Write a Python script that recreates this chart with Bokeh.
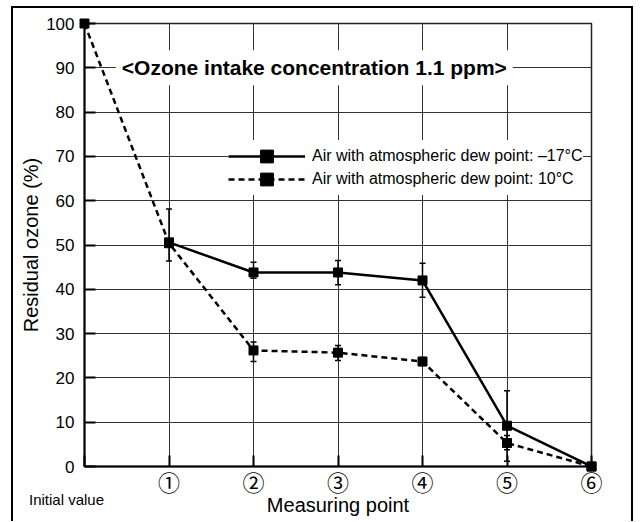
from bokeh.plotting import figure
from bokeh.models import (Range1d, Whisker, TeeHead, ColumnDataSource, Legend,
                          LegendItem, Label, FixedTicker)
from bokeh.core.properties import value
from bokeh.embed import file_html
from bokeh.resources import INLINE

# ---- data ----
points = [0, 1, 2, 3, 4, 5, 6]
tick_labels = ["", "\u2460", "\u2461", "\u2462", "\u2463", "\u2464", "\u2465"]
initial_label = "Initial value"
y_ticks = [0, 10, 20, 30, 40, 50, 60, 70, 80, 90, 100]

dry_name = "Air with atmospheric dew point: \u201317\u00b0C"
dry_x = [1, 2, 3, 4, 5, 6]
dry_y = [50.6, 43.8, 43.8, 42.0, 9.2, 0.0]
dry_lo = [46.4, 42.5, 41.0, 38.2, 1.2, 0.0]
dry_hi = [58.1, 46.1, 46.5, 45.9, 17.1, 0.0]

humid_name = "Air with atmospheric dew point: 10\u00b0C"
humid_x = [0, 1, 2, 3, 4, 5, 6]
humid_y = [100.0, 50.4, 26.2, 25.7, 23.7, 5.3, 0.0]
humid_lo = [100.0, 50.4, 23.7, 23.9, 22.8, 3.8, 0.0]
humid_hi = [100.0, 50.4, 28.1, 27.3, 24.6, 7.0, 0.0]

title_text = "<Ozone intake concentration 1.1 ppm>"
x_title = "Measuring point"
y_title = "Residual ozone (%)"

FONT = "Liberation Sans"

p = figure(frame_width=507, frame_height=443,
           x_range=Range1d(0, 6), y_range=Range1d(0, 100),
           output_backend="svg", toolbar_location=None,
           min_border_left=71, min_border_right=40,
           min_border_top=15, min_border_bottom=55)
p.styles = {"border-top": "2px solid black", "border-left": "2px solid black",
            "border-right": "2px solid black"}
p.margin = (6, 0, 0, 11)

p.outline_line_color = "#222222"
p.outline_line_width = 1.5
p.background_fill_color = "white"

# grid
p.xgrid.ticker = FixedTicker(ticks=points)
p.ygrid.ticker = FixedTicker(ticks=y_ticks)
for g in (p.xgrid, p.ygrid):
    g.grid_line_color = "#333333"
    g.grid_line_width = 1
    g.grid_line_alpha = 1

# axes
p.xaxis.ticker = FixedTicker(ticks=points)
p.xaxis.major_label_overrides = {pt: lab for pt, lab in zip(points, tick_labels)}
p.yaxis.ticker = FixedTicker(ticks=y_ticks)
for ax in (p.xaxis[0], p.yaxis[0]):
    ax.axis_line_color = "black"
    ax.axis_line_width = 2
    ax.major_tick_in = 11
    ax.major_tick_out = 0
    ax.major_tick_line_width = 2
    ax.major_tick_line_color = "black"
    ax.minor_tick_line_color = None
    ax.major_label_text_font = FONT
    ax.major_label_text_font_size = "17px"
    ax.major_label_text_color = "black"
    ax.axis_label_text_font = FONT
    ax.axis_label_text_font_style = "normal"
    ax.axis_label_text_font_size = "20px"
    ax.axis_label_text_color = "black"
p.xaxis.major_label_text_font = "Noto Sans CJK JP"
p.xaxis.major_label_text_font_size = "22px"
p.xaxis.axis_label = x_title
p.yaxis.axis_label = y_title
p.xaxis.major_label_standoff = -2
p.xaxis.axis_label_standoff = -6
p.yaxis.major_label_standoff = 10
p.yaxis.axis_label_standoff = 1

# error bars
def whisk(xs, lo, hi):
    keep = [i for i in range(len(xs)) if hi[i] > lo[i]]
    src = ColumnDataSource(dict(x=[xs[i] for i in keep],
                                lo=[lo[i] for i in keep],
                                hi=[hi[i] for i in keep]))
    w = Whisker(source=src, base="x", lower="lo", upper="hi",
                line_color="black", line_width=1.5,
                upper_head=TeeHead(size=6, line_color="black", line_width=1.5),
                lower_head=TeeHead(size=6, line_color="black", line_width=1.5))
    p.add_layout(w)

whisk(dry_x, dry_lo, dry_hi)
whisk(humid_x, humid_lo, humid_hi)

# series
p.line(humid_x, humid_y, line_color="black", line_width=2.5, line_dash="6 4")
p.line(dry_x, dry_y, line_color="black", line_width=2.5)
p.scatter(humid_x, humid_y, marker="square", size=9, fill_color="black",
          line_color="black", level="overlay")
p.scatter(dry_x, dry_y, marker="square", size=9, fill_color="black",
          line_color="black", level="overlay")

# legend (legend-only renderers, never visible in the plot)
nan = float("nan")
def dummy():
    return ColumnDataSource(dict(x=[nan], y=[nan]))
l1 = p.line("x", "y", source=dummy(), line_color="black", line_width=2.5)
s1 = p.scatter("x", "y", source=dummy(), marker="square", fill_color="black", line_color="black")
l2 = p.line("x", "y", source=dummy(), line_color="black", line_width=2.5, line_dash="6 4")
s2 = p.scatter("x", "y", source=dummy(), marker="square", fill_color="black", line_color="black")

def make_legend(label, rends, loc):
    return Legend(items=[LegendItem(label=label, renderers=rends)],
                  location=loc, margin=0, padding=0, spacing=0,
                  glyph_width=77, glyph_height=32, label_height=32,
                  label_standoff=7, border_line_color=None,
                  background_fill_color="white", background_fill_alpha=1,
                  label_text_font=FONT, label_text_font_size="16px",
                  label_text_color="black")

# second row first so the first row's box is painted over it
p.add_layout(make_legend(humid_name, [l2, s2], (144, 271)))
p.add_layout(make_legend(dry_name, [l1, s1], (144, 294)))

# title inside plot
p.add_layout(Label(x=2.72, y=90, text=title_text, text_align="center",
                   text_baseline="middle", text_font=FONT,
                   text_font_style="bold", text_font_size="21px",
                   text_color="black", background_fill_color="white",
                   padding=6))

# "Initial value" under the axis at point 0 (overlay level: not clipped)
p.text(x=[points[0]], y=[-7.5], text=[initial_label], x_offset=-18,
       text_align="center", text_baseline="middle",
       text_font=value(FONT), text_font_size="15px",
       text_color="black", level="overlay")

open("out.html", "w").write(file_html(p, INLINE))
